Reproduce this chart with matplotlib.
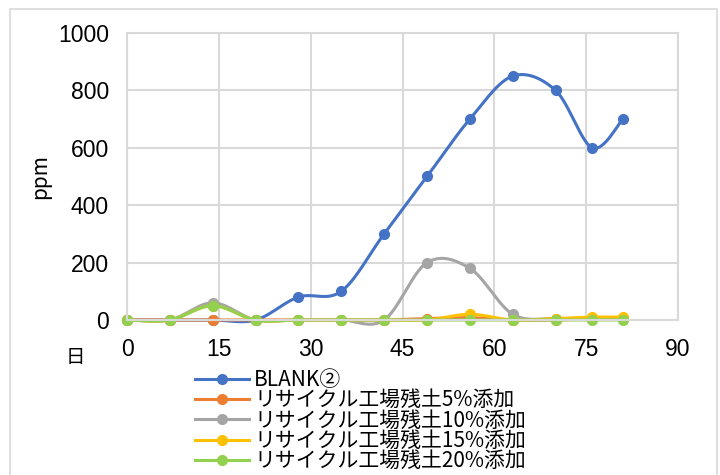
import numpy as np
import matplotlib
matplotlib.use("Agg")
import matplotlib.pyplot as plt
from matplotlib.patches import Rectangle

days = [0, 7, 14, 21, 28, 35, 42, 49, 56, 63, 70, 76, 81]
blank = [0, 0, 0, 0, 80, 100, 300, 500, 700, 850, 800, 600, 700]
soil5 = [0, 0, 0, 0, 0, 0, 0, 5, 8, 0, 0, 5, 5]
soil10 = [0, 0, 60, 0, 0, 0, 0, 200, 180, 20, 5, 5, 5]
soil15 = [0, 0, 50, 0, 0, 0, 0, 0, 20, 0, 5, 10, 10]
soil20 = [0, 0, 50, 0, 0, 0, 0, 0, 0, 0, 0, 0, 0]

labels = ["BLANK②", "リサイクル工場残土5%添加", "リサイクル工場残土10%添加",
          "リサイクル工場残土15%添加", "リサイクル工場残土20%添加"]
colors = ["#4472C4", "#ED7D31", "#A5A5A5", "#FFC000", "#92D050"]
xticks = [0, 15, 30, 45, 60, 75, 90]
yticks = [0, 200, 400, 600, 800, 1000]

num_font = "Liberation Sans"
cjk = ["Noto Sans CJK JP", "DejaVu Sans"]


def smooth(x, y, n=30):
    p = np.column_stack([x, y]).astype(float)
    pts = np.vstack([p[0], p, p[-1]])
    out = []
    for i in range(1, len(pts) - 2):
        p0, p1, p2, p3 = pts[i - 1], pts[i], pts[i + 1], pts[i + 2]
        c1 = p1 + (p2 - p0) / 6.0
        c2 = p2 - (p3 - p1) / 6.0
        t = np.linspace(0, 1, n)[:, None]
        seg = ((1 - t) ** 3) * p1 + 3 * ((1 - t) ** 2) * t * c1 + 3 * (1 - t) * t ** 2 * c2 + t ** 3 * p2
        out.append(seg if i == 1 else seg[1:])
    s = np.vstack(out)
    return s[:, 0], s[:, 1]


fig = plt.figure(figsize=(7.2, 4.75), dpi=100)
W, H = 720, 475
# chart border
fig.patches.append(Rectangle((10 / W, -0.1), (717 - 10) / W, (H - 9) / H + 0.1,
                             transform=fig.transFigure, fill=False,
                             edgecolor="#D9D9D9", linewidth=1.2))

L, R, T, B = 127, 678, 33, 320
ax = fig.add_axes([L / W, 1 - B / H, (R - L) / W, (B - T) / H])
ax.set_xlim(0, 90)
ax.set_ylim(0, 1000)
ax.set_xticks(xticks)
ax.set_yticks(yticks)
ax.grid(True, color="#D9D9D9", linewidth=1.5)
ax.set_axisbelow(True)
for sp in ax.spines.values():
    sp.set_color("#D9D9D9")
    sp.set_linewidth(1.5)
ax.tick_params(length=0, labelsize=16.5, pad=13)
for lab in ax.get_xticklabels() + ax.get_yticklabels():
    lab.set_fontfamily(num_font)

handles = []
for vals, col, lab in zip([blank, soil5, soil10, soil15, soil20], colors, labels):
    sx, sy = smooth(days, vals)
    ax.plot(sx, sy, color=col, linewidth=2.2, solid_capstyle="round", clip_on=False)
    ax.plot(days, vals, "o", color=col, markersize=7, clip_on=False)
    h, = ax.plot([], [], "-o", color=col, linewidth=2.2, markersize=7)
    handles.append(h)

ax.set_ylabel("ppm", family=cjk, fontsize=15)
ax.yaxis.set_label_coords((40 - L) / (R - L), 0.5)
ax.yaxis.label.set_va("center")
fig.text(75 / W, 1 - 357 / H, "日", family=cjk, fontsize=14, ha="center", va="center")

leg = fig.legend(handles, labels, loc="upper left", bbox_to_anchor=(195 / W, 1 - 369 / H),
                 frameon=False, prop={"family": cjk, "size": 15}, handlelength=2.6,
                 handletextpad=0.25, labelspacing=-0.08, borderpad=0, borderaxespad=0)

fig.savefig("out.png", dpi=100)
